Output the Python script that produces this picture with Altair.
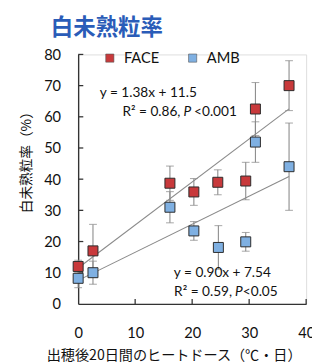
import altair as alt
import pandas as pd

# ---- data ----
heat_face = [0, 2.6, 16.1, 20.3, 24.5, 29.4, 31.1, 37.0]
rate_face = [12.0, 17.0, 38.7, 35.9, 39.0, 39.4, 62.5, 70.0]
err_face = [2.0, 8.5, 5.5, 4.3, 4.0, 6.0, 8.5, 8.0]

heat_amb = [0, 2.6, 16.1, 20.3, 24.6, 29.4, 31.1, 37.0]
rate_amb = [8.2, 10.0, 31.0, 23.4, 18.1, 19.9, 51.9, 44.0]
err_amb = [3.0, 3.7, 5.0, 3.0, 7.0, 3.0, 6.5, 14.0]

groups = ["FACE", "AMB"]
colors = ["#c8393b", "#7fb0e2"]
slopes = [1.38, 0.90]
intercepts = [11.5, 7.54]
fit_range = [0, 37]

x_ticks = [0, 10, 20, 30, 40]
y_ticks = [0, 10, 20, 30, 40, 50, 60, 70, 80]

title_text = "白未熟粒率"
x_title = "出穂後20日間のヒートドース（℃・日）"
y_title = "白未熟粒率（%）"

# ---- tables ----
rows = []
for g, xs, ys, es in [("FACE", heat_face, rate_face, err_face), ("AMB", heat_amb, rate_amb, err_amb)]:
    for x, y, e in zip(xs, ys, es):
        rows.append({"group": g, "heat": x, "rate": y, "lo": y - e, "hi": y + e})
pts = pd.DataFrame(rows)

fit_rows = []
for g, m, b in zip(groups, slopes, intercepts):
    for x in fit_range:
        fit_rows.append({"group": g, "heat": x, "rate": m * x + b})
fits = pd.DataFrame(fit_rows)

xt = pd.DataFrame({"v": x_ticks[1:], "zero": 0.0, "len": 1.6})
yt = pd.DataFrame({"v": y_ticks[1:], "zero": 0.0, "len": 0.9})

FONT = "Lato"
JP = "Noto Sans CJK JP"

xscale = alt.Scale(domain=[0, 40], nice=False)
yscale = alt.Scale(domain=[0, 80], nice=False)
cscale = alt.Scale(domain=groups, range=colors)

xaxis = alt.Axis(values=x_ticks, ticks=False, grid=False, labelFont=FONT, labelFontSize=15,
                 labelPadding=22, labelColor="#111", domainColor="#333", domainWidth=1.4,
                 labelOverlap=False, labelFlush=False,
                 title=x_title, titleFont=JP, titleFontSize=14.5, titleFontWeight="normal",
                 titleColor="#111", titleX=98, titleY=53, titleBaseline="middle",
                 titleAnchor="middle", titleAlign="center")
yaxis = alt.Axis(values=y_ticks, ticks=False, grid=False, labelFont=FONT, labelFontSize=15,
                 labelPadding=18, labelColor="#111", domainColor="#333", domainWidth=1.4,
                 labelOverlap=False, labelFlush=False,
                 title=y_title, titleFont=JP, titleFontSize=14, titleFontWeight="normal",
                 titleColor="#111", titleX=-53, titleY=107, titleAngle=-90,
                 titleBaseline="middle", titleAlign="center")


def X(f):
    return alt.X(f, scale=xscale, axis=xaxis)


def Y(f):
    return alt.Y(f, scale=yscale, axis=yaxis)


base = alt.Chart(pts)

fit_lines = alt.Chart(fits).mark_line(color="#8a8a8a", strokeWidth=1.1).encode(
    x=X("heat:Q"), y=Y("rate:Q"), detail="group:N",
)

bars = base.mark_rule(color="#8a8a8a", strokeWidth=1.1).encode(
    x=X("heat:Q"), y=Y("lo:Q"), y2="hi:Q")
caps_hi = base.mark_tick(color="#8a8a8a", orient="horizontal", size=8, thickness=1.1).encode(
    x=X("heat:Q"), y=Y("hi:Q"))
caps_lo = base.mark_tick(color="#8a8a8a", orient="horizontal", size=8, thickness=1.1).encode(
    x=X("heat:Q"), y=Y("lo:Q"))

points = base.mark_square(size=105, filled=True, opacity=1, stroke="#2a2a2a", strokeWidth=1).encode(
    x=X("heat:Q"), y=Y("rate:Q"),
    color=alt.Color("group:N", scale=cscale, sort=groups,
                    legend=alt.Legend(title=None, orient="none", legendX=25, legendY=-4,
                                      direction="horizontal", symbolType="square", symbolSize=70,
                                      symbolStrokeColor="#555", symbolStrokeWidth=0.6,
                                      labelFont=FONT, labelFontSize=15, labelColor="#111",
                                      labelOffset=7, columnPadding=26, padding=0)),
    order=alt.Order("group:N", sort="ascending"),
)

xtick_marks = alt.Chart(xt).mark_rule(color="#333", strokeWidth=1.3).encode(
    x=X("v:Q"), y=Y("zero:Q"), y2="len:Q")
ytick_marks = alt.Chart(yt).mark_rule(color="#333", strokeWidth=1.3).encode(
    y=Y("v:Q"), x=X("zero:Q"), x2="len:Q")


def txt(s, x, y, align="center", italic=False, size=14, font=FONT, color="#111", weight="normal"):
    return alt.Chart(pd.DataFrame({"t": [s]})).mark_text(
        align=align, baseline="middle", fontSize=size, font=font, color=color,
        fontStyle="italic" if italic else "normal", fontWeight=weight
    ).encode(x=alt.value(x), y=alt.value(y), text="t:N")


annots = [
    txt(title_text, -28, -27, align="left", size=23, font=JP, color="#2a5cb8", weight="bold"),
    txt("y = 1.38x + 11.5", 72, 40),
    txt("R² = 0.86,", 105, 59, align="right"),
    txt("P", 108, 59, align="left", italic=True),
    txt("<0.001", 119, 59, align="left"),
    txt("y = 0.90x + 7.54", 148, 224),
    txt("R² = 0.59,", 158, 244, align="right"),
    txt("P", 161, 244, align="left", italic=True),
    txt("<0.05", 169, 244, align="left"),
]

chart = alt.layer(fit_lines, xtick_marks, ytick_marks, bars, caps_hi, caps_lo, points, *annots).properties(
    width=234, height=256,
    autosize=alt.AutoSizeParams(type="none"),
    padding={"left": 72, "top": 43, "right": 6, "bottom": 56},
).configure_view(stroke=None).configure(background="white")

chart.save("out.html", embed_options={"renderer": "svg", "actions": False})
